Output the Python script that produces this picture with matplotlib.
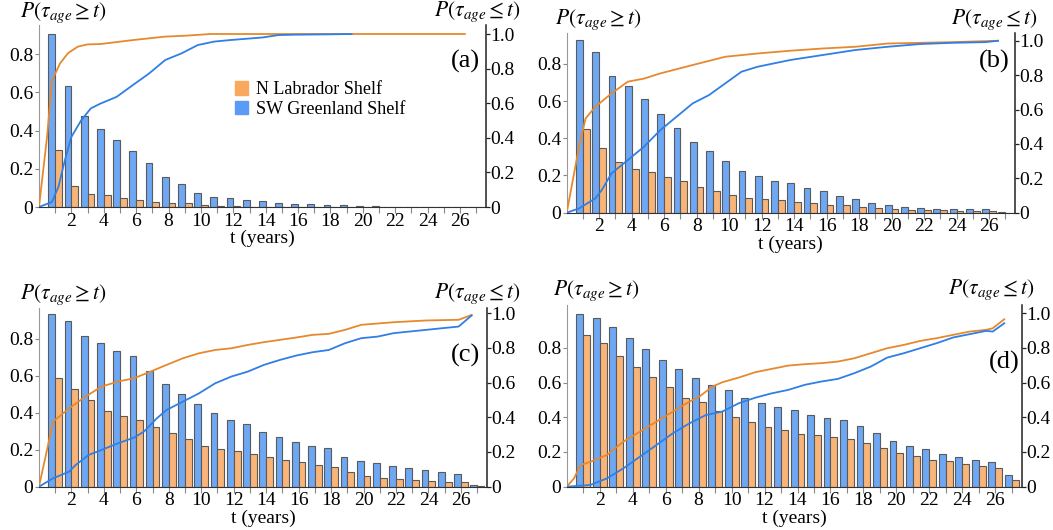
import matplotlib
matplotlib.use("Agg")
import matplotlib.pyplot as plt
import numpy as np
from matplotlib.patches import Patch
from matplotlib.ticker import FixedLocator, FuncFormatter

plt.rcParams['font.family'] = ['Liberation Serif', 'DejaVu Serif']
plt.rcParams['mathtext.fontset'] = 'stix'

t = np.arange(1, 28)

# bar heights, P(tau_age >= t)
blue_a = [0.908, 0.632, 0.475, 0.41, 0.349, 0.291, 0.232, 0.157, 0.12, 0.073, 0.052, 0.045, 0.038, 0.03,
          0.02, 0.017, 0.014, 0.012, 0.01, 0.007, 0.003, 0.002, 0.002, 0.001, 0.001, 0.001, 0.001]
orange_a = [0.297, 0.108, 0.066, 0.061, 0.049, 0.038, 0.026, 0.023, 0.019, 0.012, 0.005, 0.003, 0.002, 0.002,
            0.001, 0.001, 0.001, 0.001, 0.001, 0.0, 0.0, 0.0, 0.0, 0.0, 0.0, 0.0, 0.0]
blue_b = [0.929, 0.863, 0.735, 0.682, 0.612, 0.531, 0.454, 0.382, 0.334, 0.278, 0.226, 0.197, 0.172, 0.158,
          0.133, 0.118, 0.088, 0.072, 0.05, 0.043, 0.032, 0.023, 0.02, 0.02, 0.018, 0.018, 0.004]
orange_b = [0.45, 0.35, 0.274, 0.235, 0.217, 0.194, 0.17, 0.139, 0.118, 0.095, 0.081, 0.072, 0.068, 0.059,
            0.05, 0.043, 0.039, 0.032, 0.023, 0.02, 0.014, 0.013, 0.013, 0.009, 0.009, 0.007, 0.001]
blue_c = [0.934, 0.9, 0.818, 0.78, 0.737, 0.706, 0.627, 0.554, 0.502, 0.45, 0.399, 0.363, 0.34, 0.298,
          0.269, 0.244, 0.219, 0.208, 0.161, 0.137, 0.128, 0.11, 0.099, 0.088, 0.078, 0.069, 0.007]
orange_c = [0.587, 0.529, 0.47, 0.41, 0.385, 0.359, 0.323, 0.293, 0.258, 0.219, 0.202, 0.195, 0.177, 0.161,
            0.144, 0.132, 0.116, 0.107, 0.081, 0.056, 0.045, 0.04, 0.036, 0.031, 0.025, 0.023, 0.005]
blue_d = [0.998, 0.973, 0.919, 0.858, 0.796, 0.729, 0.677, 0.624, 0.585, 0.56, 0.512, 0.48, 0.462, 0.443,
          0.414, 0.397, 0.384, 0.349, 0.307, 0.263, 0.236, 0.215, 0.19, 0.171, 0.152, 0.144, 0.067]
orange_d = [0.873, 0.829, 0.752, 0.687, 0.633, 0.572, 0.514, 0.486, 0.436, 0.403, 0.37, 0.345, 0.326, 0.303,
            0.296, 0.284, 0.276, 0.251, 0.225, 0.192, 0.177, 0.155, 0.146, 0.131, 0.119, 0.106, 0.038]

# cumulative curves, P(tau_age <= t)
tb_a = [0, 0.8, 1.2, 1.6, 2.0, 2.6, 3.2, 3.8, 4.8, 5.8, 6.8, 7.8, 8.8, 9.8, 10.8, 11.8, 13.8, 14.8, 15.8, 17.8, 19.3]
cb_a = [0, 0.029, 0.116, 0.27, 0.405, 0.50, 0.57, 0.598, 0.637, 0.705, 0.772, 0.85, 0.888, 0.936, 0.956, 0.965,
        0.98, 0.994, 0.996, 0.998, 1.0]
to_a = [0, 0.5, 0.8, 1.3, 1.8, 2.4, 3.0, 3.8, 5.8, 7.8, 9.0, 10.6, 26.3]
co_a = [0, 0.405, 0.73, 0.83, 0.89, 0.927, 0.94, 0.942, 0.965, 0.985, 0.99, 1.0, 1.0]

tb_b = [0, 0.76, 1.76, 2.16, 2.76, 3.76, 4.76, 5.76, 6.76, 7.76, 8.76, 9.76, 10.76, 11.76, 13.76, 15.76, 17.76,
        19.76, 21.76, 23.76, 25.76, 26.56]
cb_b = [0, 0.025, 0.083, 0.132, 0.229, 0.306, 0.384, 0.48, 0.558, 0.636, 0.684, 0.752, 0.82, 0.849, 0.888, 0.917,
        0.946, 0.965, 0.981, 0.988, 0.992, 1.0]
to_b = [0, 0.76, 1.16, 1.76, 2.76, 3.76, 4.76, 5.76, 7.76, 9.76, 11.76, 13.76, 15.76, 17.76, 19.76, 21.76, 23.76,
        26.56]
co_b = [0, 0.384, 0.548, 0.616, 0.694, 0.762, 0.78, 0.81, 0.859, 0.907, 0.926, 0.942, 0.955, 0.965, 0.984, 0.988,
        0.992, 1.0]

tb_c = [0, 0.86, 1.86, 2.26, 3.06, 3.86, 4.86, 5.86, 6.46, 7.26, 7.86, 8.86, 9.86, 10.86, 11.86, 12.86, 13.86,
        14.86, 15.86, 16.86, 17.86, 18.86, 19.86, 20.86, 21.86, 23.86, 25.86, 26.66]
cb_c = [0, 0.048, 0.087, 0.125, 0.183, 0.212, 0.25, 0.283, 0.317, 0.394, 0.442, 0.49, 0.538, 0.596, 0.635, 0.663,
        0.702, 0.731, 0.756, 0.775, 0.788, 0.827, 0.856, 0.865, 0.885, 0.904, 0.923, 0.987]
to_c = [0, 0.56, 0.86, 1.36, 1.86, 2.86, 3.86, 4.86, 5.86, 6.86, 7.86, 8.86, 9.86, 10.86, 11.86, 12.86, 13.86,
        15.86, 16.86, 17.86, 18.86, 19.86, 21.86, 23.86, 25.86, 26.66]
co_c = [0, 0.24, 0.375, 0.413, 0.452, 0.519, 0.577, 0.606, 0.625, 0.663, 0.702, 0.74, 0.769, 0.788, 0.798, 0.817,
        0.833, 0.86, 0.875, 0.881, 0.904, 0.933, 0.948, 0.958, 0.962, 0.99]

tb_d = [0, 1.44, 2.44, 3.44, 4.44, 5.44, 6.44, 7.44, 8.44, 9.44, 10.44, 11.44, 12.44, 13.44, 14.44, 15.44, 16.44,
        17.44, 18.44, 19.44, 20.44, 21.44, 22.44, 23.44, 24.44, 25.44, 25.84, 26.54]
cb_d = [0, 0.01, 0.048, 0.106, 0.173, 0.24, 0.308, 0.365, 0.413, 0.433, 0.481, 0.513, 0.538, 0.558, 0.587, 0.606,
        0.621, 0.654, 0.692, 0.744, 0.769, 0.798, 0.827, 0.86, 0.879, 0.898, 0.894, 0.942]
to_d = [0, 0.44, 0.84, 1.44, 2.44, 3.44, 4.44, 5.44, 6.44, 7.44, 8.04, 8.84, 9.44, 10.44, 11.44, 12.44, 13.44,
        14.44, 15.44, 16.44, 17.44, 18.44, 19.44, 20.44, 21.44, 22.44, 23.44, 24.44, 25.44, 25.84, 26.54]
co_d = [0, 0.048, 0.125, 0.144, 0.183, 0.26, 0.317, 0.375, 0.433, 0.49, 0.519, 0.577, 0.602, 0.629, 0.66, 0.679,
        0.698, 0.706, 0.712, 0.721, 0.74, 0.769, 0.798, 0.817, 0.84, 0.856, 0.875, 0.894, 0.904, 0.913, 0.965]

BAR_BLUE = '#6ea8f4'
BAR_ORANGE = '#f9b478'
LINE_BLUE = '#2f7fe4'
LINE_ORANGE = '#e6892e'

fig = plt.figure(figsize=(10.53, 5.30), dpi=100)

# (label, rect, left ylim top, right ylim top, left title offset, right title offset, panel label pos)
panels = [
    ('(a)', [0.037, 0.6094, 0.4245, 0.3434], 0.953, 1.052, (-19, 0), (35, 1), (0.955, 0.80),
     blue_a, orange_a, tb_a, cb_a, to_a, co_a),
    ('(b)', [0.5382, 0.5987, 0.4257, 0.339], 0.966, 1.045, (-12, 1), (23, 1), (0.953, 0.84),
     blue_b, orange_b, tb_b, cb_b, to_b, co_b),
    ('(c)', [0.037, 0.0817, 0.4254, 0.3372], 0.968, 1.03, (-19, 1), (34, 2), (0.953, 0.737),
     blue_c, orange_c, tb_c, cb_c, to_c, co_c),
    ('(d)', [0.5382, 0.0817, 0.4321, 0.3428], 1.047, 1.047, (-14, 2), (13, 3), (0.962, 0.686),
     blue_d, orange_d, tb_d, cb_d, to_d, co_d),
]

fmt = FuncFormatter(lambda v, p: '0' if abs(v) < 1e-9 else '%.1f' % v)

for (lab, rect, ytop, ytop2, loff, roff, lpos, blue, orange, tb, cb, to, co) in panels:
    ax = fig.add_axes(rect)
    ax.bar(t, blue, width=-0.42, align='edge', color=BAR_BLUE, edgecolor='#5a5a5a', linewidth=0.8)
    ax.bar(t, orange, width=0.42, align='edge', color=BAR_ORANGE, edgecolor='#5a5a5a', linewidth=0.8)
    ax.set_xlim(0, 27.6)
    ax.set_ylim(0, ytop)
    ax.set_yticks([0, 0.2, 0.4, 0.6, 0.8])
    ax.yaxis.set_major_formatter(fmt)
    ax.xaxis.set_major_locator(FixedLocator(list(range(2, 27, 2))))
    ax.xaxis.set_minor_locator(FixedLocator(list(range(1, 28))))
    ax.tick_params(axis='x', which='both', length=4, width=0.8, color='#888888', labelsize=14, pad=0)
    ax.tick_params(axis='y', length=3, width=0.8, color='#888888', labelsize=14, pad=1)
    for s in ['top', 'right']:
        ax.spines[s].set_visible(False)
    ax.spines['left'].set_color('#999999')
    ax.spines['bottom'].set_color('#333333')
    ax.set_xlabel('t (years)', fontsize=14, labelpad=0)

    ax2 = ax.twinx()
    ax2.plot(to, co, color=LINE_ORANGE, lw=1.3)
    ax2.plot(tb, cb, color=LINE_BLUE, lw=1.3)
    ax2.set_ylim(0, ytop2)
    ax2.set_yticks([0, 0.2, 0.4, 0.6, 0.8, 1.0])
    ax2.yaxis.set_major_formatter(fmt)
    ax2.tick_params(axis='y', length=3, width=0.9, color='#222222', labelsize=14, pad=0)
    for s in ['top', 'left', 'bottom']:
        ax2.spines[s].set_visible(False)
    ax2.spines['right'].set_color('#222222')
    ax2.spines['right'].set_linewidth(1.1)

    ax2.annotate(r'$P(\tau_{age} \geq t)$', xy=(0, 1), xycoords='axes fraction', xytext=loff,
                 textcoords='offset pixels', ha='left', va='bottom', fontsize=15.5)
    ax2.annotate(r'$P(\tau_{age} \leq t)$', xy=(1, 1), xycoords='axes fraction', xytext=roff,
                 textcoords='offset pixels', ha='right', va='bottom', fontsize=15.5)
    ax2.text(lpos[0], lpos[1], lab, transform=ax.transAxes, ha='center', va='center', fontsize=19)

    if lab == '(a)':
        handles = [Patch(color='#f9a85c'), Patch(color='#5b9bf6')]
        ax2.legend(handles, ['N Labrador Shelf', 'SW Greenland Shelf'], loc='upper left',
                   bbox_to_anchor=(0.418, 0.74), frameon=False, fontsize=13, borderpad=0,
                   handlelength=0.75, handleheight=0.75, handletextpad=0.4, labelspacing=0.15)

fig.savefig('out.png', dpi=100)
